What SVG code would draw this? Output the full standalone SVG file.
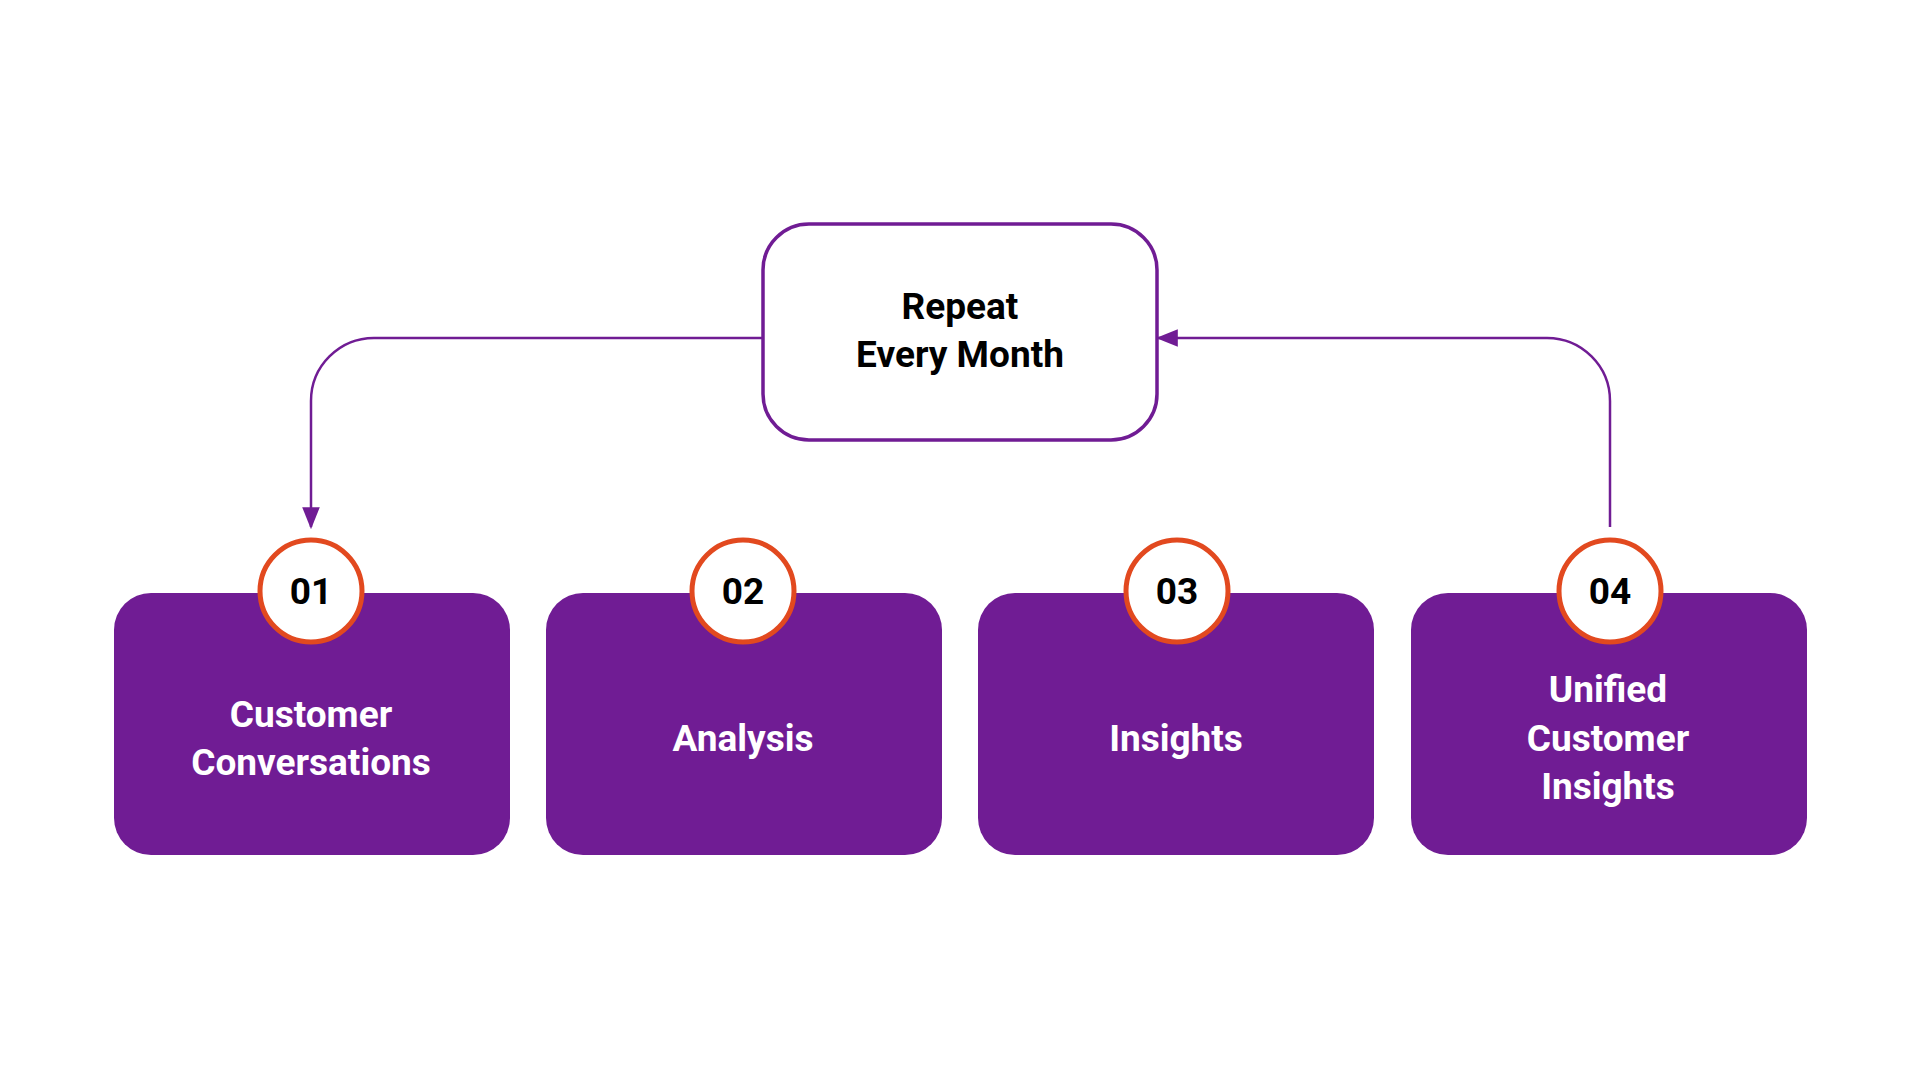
<svg xmlns="http://www.w3.org/2000/svg" width="1920" height="1080" viewBox="0 0 1920 1080">
<defs>
<style>
.box{fill:#701C94}
.num{fill:#fff;stroke:#E2491F;stroke-width:5}
.t{font-family:Roboto,"Liberation Sans",sans-serif;font-weight:bold;font-size:37px;text-anchor:middle}
.w{fill:#fff}
.k{fill:#000}
.c{fill:none;stroke:#701C94;stroke-width:2.5}
</style>
<marker id="ah" viewBox="0 0 10 10" refX="9" refY="5" markerWidth="7" markerHeight="7" markerUnits="userSpaceOnUse" orient="auto"><path d="M0,0 L10,5 L0,10 Z" fill="#701C94"/></marker>
<marker id="ah2" viewBox="0 0 10 10" refX="9" refY="5" markerWidth="22" markerHeight="22" markerUnits="userSpaceOnUse" orient="auto"><path d="M0,1 L10,5 L0,9 Z" fill="#701C94"/></marker>
</defs>
<rect width="1920" height="1080" fill="#fff"/>
<g id="connectors">
<path class="c" d="M763,338 H374 A63,63 0 0 0 311,401 V527" marker-end="url(#ah2)"/>
<path class="c" d="M1610,527 V401 A63,63 0 0 0 1547,338 H1158" marker-end="url(#ah2)"/>
</g>
<g id="repeat">
<rect x="763" y="224" width="394" height="216" rx="46" fill="#fff" stroke="#701C94" stroke-width="3.5"/>
<text class="t k" x="960" y="319">Repeat</text>
<text class="t k" x="960" y="367">Every Month</text>
</g>
<g id="step1">
<rect class="box" x="114" y="593" width="396" height="262" rx="37"/>
<circle class="num" cx="311" cy="591" r="51"/>
<text class="t k" x="311" y="604">01</text>
<text class="t w" x="311" y="727">Customer</text>
<text class="t w" x="311" y="775">Conversations</text>
</g>
<g id="step2">
<rect class="box" x="546" y="593" width="396" height="262" rx="37"/>
<circle class="num" cx="743" cy="591" r="51"/>
<text class="t k" x="743" y="604">02</text>
<text class="t w" x="743" y="751">Analysis</text>
</g>
<g id="step3">
<rect class="box" x="978" y="593" width="396" height="262" rx="37"/>
<circle class="num" cx="1177" cy="591" r="51"/>
<text class="t k" x="1177" y="604">03</text>
<text class="t w" x="1176" y="751">Insights</text>
</g>
<g id="step4">
<rect class="box" x="1411" y="593" width="396" height="262" rx="37"/>
<circle class="num" cx="1610" cy="591" r="51"/>
<text class="t k" x="1610" y="604">04</text>
<text class="t w" x="1608" y="702">Unified</text>
<text class="t w" x="1608" y="751">Customer</text>
<text class="t w" x="1608" y="799">Insights</text>
</g>
</svg>
